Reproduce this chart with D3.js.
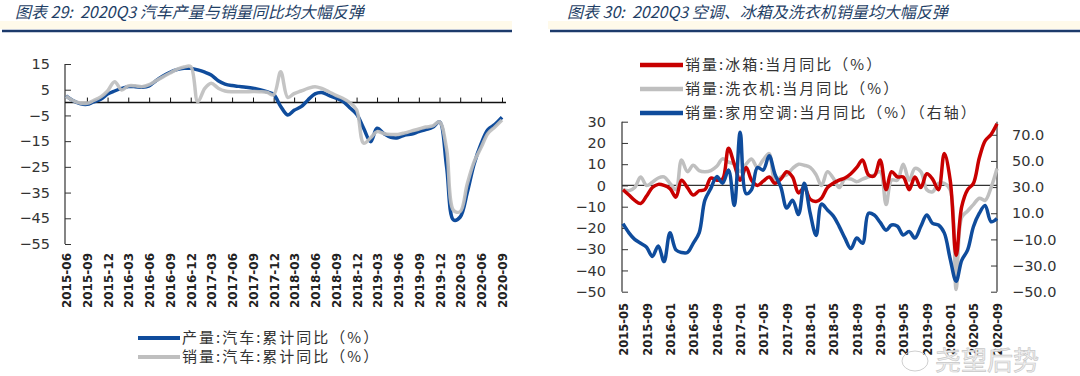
<!DOCTYPE html>
<html><head><meta charset="utf-8">
<script src="https://cdn.jsdelivr.net/npm/d3@7"></script>
<style>
html,body{margin:0;padding:0;background:#fff;}
svg text{font-family:"DejaVu Sans",Verdana,sans-serif;}
.cjk{font-family:"Noto Sans CJK SC","Noto Sans",sans-serif;}
.pre{white-space:pre;}
</style>
</head><body>
<svg id="c" width="1080" height="376"></svg>
<script>
// ---------- Chart 29: cars (cumulative YoY, %) ----------
const carStart = "2015-06", carEnd = "2020-09";
const carProd = [2.6,0.8,-0.4,-0.7,0.3,1.3,3.3,4.5,5.5,6.2,6.2,6.0,6.5,8.5,10.3,11.8,12.8,13.3,13.3,12.7,11.8,10.7,8.5,7.2,6.6,6.3,6.0,5.6,5.0,4.2,3.2,-1.5,-4.8,-3.0,-1.6,1.0,3.4,3.9,2.8,1.7,0.5,-2.0,-4.5,-10,-15.2,-10,-12.1,-13.5,-13.7,-12.6,-12.2,-11.3,-10.5,-9.6,-7.5,-24.9,-45.7,-44.5,-35,-24,-16,-10.5,-8.5,-5.7];
const carSales = [2.5,0.8,-0.2,-0.3,0.8,2.2,4.5,8.1,4.9,6.5,6.5,6.2,7.0,8.5,10.0,11.5,12.9,13.8,14.0,0.3,5.5,7.5,5.6,4.5,4.2,4.2,4.2,4.3,4.2,4.0,3.0,12.0,2.0,3.5,4.5,5.5,6.2,5.5,4.2,2.8,1.7,0.0,-2.8,-15.8,-13.7,-11.3,-12.1,-12.4,-12.4,-11.8,-11.0,-10.3,-9.5,-9.1,-7.5,-18.0,-42.0,-42.4,-31.7,-23.1,-17.5,-12.0,-9.5,-6.8];
const carXTicks = ["2015-06","2015-09","2015-12","2016-03","2016-06","2016-09","2016-12","2017-03","2017-06","2017-09","2017-12","2018-03","2018-06","2018-09","2018-12","2019-03","2019-06","2019-09","2019-12","2020-03","2020-06","2020-09"];
const carYTicks = [15,5,-5,-15,-25,-35,-45,-55];
const carSeriesNames = ["产量:汽车:累计同比（%）","销量:汽车:累计同比（%）"];

// ---------- Chart 30: appliances (monthly YoY, %) ----------
const appStart = "2015-05", appEnd = "2020-09";
const fridge = [-2,-4.5,-7,-8.5,-5,-1,0.5,0,-1.5,-5.5,2.5,-1,-4.5,-2.5,-2,3.5,2.5,3,17.5,10,2.5,8.5,2.5,0,2,4,1,3,6.5,4,-3.5,-1,-6.5,-7.5,-6,-1,1,2.5,3.5,5.5,8.5,12,5,4.5,12,-2,6.5,4,4,-2,4,-1,5.5,3,-2,15,2.5,-33,-10,-2,1,13,21,24,29];
const washer = [-2,-2.5,-1,4,0,1.5,3.5,4,1,-2,12,6.5,9.5,7,6.5,7,9,12.5,11,10,6.5,10,12.5,8.5,12,15,2,4,5,8,10,9.5,8.5,5,0,6.5,3.5,-1,3,3,1.8,3,4,5,6.5,-9,2.5,2.5,10,2.5,8,6.5,-2,-3,1,1,-2,-49,-15,-12,-9,-6,-7,-1,8];
const aircon = [2,-5,-10,-13,-16,-23,-15,-27,-5,-18,-20,-20,-13,-5,20,29,38,33,43,16,72,25,28,45,43,54,40,30,14,20,9,33,10,-7,17,12.5,8,0,-9,-17,-9,-13,10,8.6,3,-3,1,0,-6.6,-4,-9,0,8.6,2.3,1,-5,-25,-42,-26,-18,-0.3,10,16,3.5,6];
const appXTicks = ["2015-05","2015-09","2016-01","2016-05","2016-09","2017-01","2017-05","2017-09","2018-01","2018-05","2018-09","2019-01","2019-05","2019-09","2020-01","2020-05","2020-09"];
const appLeftTicks = [30,20,10,0,-10,-20,-30,-40,-50];
const appRightTicks = [70,50,30,10,-10,-30,-50];
const appSeriesNames = ["销量:冰箱:当月同比（%）","销量:洗衣机:当月同比（%）","销量:家用空调:当月同比（%）（右轴）"];

const titles = ["图表 29:  2020Q3 汽车产量与销量同比均大幅反弹","图表 30:  2020Q3 空调、冰箱及洗衣机销量均大幅反弹"];

// ---------- drawing ----------
const svg = d3.select("#c");
const parse = d3.timeParse("%Y-%m");
const BLUE = "#0F4C9C", GRAY = "#BFBFBF", RED = "#C80000", TITLE = "#1F3F66", NAVY = "#1C3A6B";

// title bands
[[0,512],[548,1080]].forEach(([x0,x1],k)=>{
  svg.append("rect").attr("x",x0).attr("y",21).attr("width",x1-x0).attr("height",8).attr("fill","#FFFAEA");
  svg.append("line").attr("x1",x0+2).attr("x2",x1).attr("y1",31).attr("y2",31).attr("stroke",NAVY).attr("stroke-width",2.5);
});
svg.append("text").attr("class","cjk pre").attr("x",15).attr("y",18).attr("font-size",16).attr("font-style","italic").attr("fill",TITLE).text(titles[0]);
svg.append("text").attr("class","cjk pre").attr("x",567).attr("y",18).attr("font-size",16).attr("font-style","italic").attr("fill",TITLE).text(titles[1]);

// ===== Chart 29 =====
(function(){
  const months = d3.timeMonth.range(parse(carStart), d3.timeMonth.offset(parse(carEnd),1));
  const x = d3.scaleTime().domain([parse(carStart), parse(carEnd)]).range([66, 502]);
  const y = d3.scaleLinear().domain([-55, 15]).range([244, 64]);
  const g = svg.append("g");
  const ya = d3.axisLeft(y).tickValues(carYTicks).tickSize(-6).tickPadding(15).tickFormat(d3.format("d"));
  const yg = g.append("g").attr("transform","translate(65,0)").call(ya);
  yg.select(".domain").remove();
  yg.append("line").attr("x1",0).attr("x2",0).attr("y1",y(15)).attr("y2",y(-55)).attr("stroke","#333").attr("stroke-width",1.2);
  yg.selectAll(".tick line").attr("stroke","#333");
  yg.selectAll("text").attr("font-size",14.5).attr("fill","#333");
  const xa = d3.axisBottom(x).tickValues(carXTicks.map(parse)).tickSize(-5).tickFormat("");
  const xg = g.append("g").attr("transform",`translate(0,${y(0)})`).call(xa);
  xg.select(".domain").remove();
  xg.append("line").attr("x1",65).attr("x2",506).attr("y1",0).attr("y2",0).attr("stroke","#111").attr("stroke-width",1.5);
  xg.selectAll(".tick line").attr("stroke","#111").filter((d,i)=>i===0).remove();
  g.selectAll(".xl").data(carXTicks).join("text")
    .attr("transform",d=>`translate(${x(parse(d))+5},253) rotate(-90)`)
    .attr("text-anchor","end").attr("font-size",12).attr("font-weight","bold").attr("fill","#222").text(d=>d);
  const line = d3.line().x((d,i)=>x(months[i])).y(d=>y(d)).curve(d3.curveCatmullRom.alpha(0.5));
  g.append("path").datum(carProd).attr("d",line).attr("fill","none").attr("stroke",BLUE).attr("stroke-width",3.5);
  g.append("path").datum(carSales).attr("d",line).attr("fill","none").attr("stroke",GRAY).attr("stroke-width",3.5).attr("stroke-opacity",0.92);
  const lg = g.append("g");
  [[BLUE,338],[GRAY,357]].forEach(([c,yy],i)=>{
    lg.append("line").attr("x1",138).attr("x2",180).attr("y1",yy).attr("y2",yy).attr("stroke",c).attr("stroke-width",4);
    lg.append("text").attr("class","cjk").attr("x",182).attr("y",yy+5).attr("font-size",15).attr("letter-spacing",2).attr("fill","#333").text(carSeriesNames[i]);
  });
})();

// ===== Chart 30 =====
(function(){
  const months = d3.timeMonth.range(parse(appStart), d3.timeMonth.offset(parse(appEnd),1));
  const x = d3.scaleTime().domain([parse(appStart), parse(appEnd)]).range([623, 997]);
  const yL = d3.scaleLinear().domain([-50, 30]).range([291.7, 121.7]);
  const yR = d3.scaleLinear().domain([-50, 80]).range([291.7, 121.7]);
  const g = svg.append("g");
  const ya = d3.axisLeft(yL).tickValues(appLeftTicks).tickSize(-6).tickPadding(16).tickFormat(d3.format("d"));
  const yg = g.append("g").attr("transform","translate(622,0)").call(ya);
  yg.select(".domain").remove();
  yg.append("line").attr("y1",yL(30)).attr("y2",yL(-50)).attr("stroke","#333").attr("stroke-width",1.2);
  yg.selectAll(".tick line").attr("stroke","#333");
  yg.selectAll("text").attr("font-size",14.5).attr("fill","#333");
  const yra = d3.axisRight(yR).tickValues(appRightTicks).tickSize(-6).tickPadding(15).tickFormat(d3.format(".1f"));
  const yrg = g.append("g").attr("transform","translate(997,0)").call(yra);
  yrg.select(".domain").remove();
  yrg.append("line").attr("y1",yR(80)).attr("y2",yR(-50)).attr("stroke","#333").attr("stroke-width",1.2);
  yrg.selectAll(".tick line").attr("stroke","#333");
  yrg.selectAll("text").attr("font-size",14.5).attr("fill","#333");
  g.append("line").attr("x1",622).attr("x2",997).attr("y1",yL(0)).attr("y2",yL(0)).attr("stroke","#333").attr("stroke-width",1.2);
  g.selectAll(".xl").data(appXTicks).join("text")
    .attr("transform",d=>`translate(${x(parse(d))+5},303) rotate(-90)`)
    .attr("text-anchor","end").attr("font-size",11.5).attr("font-weight","bold").attr("fill","#222").text(d=>d);
  const lineL = d3.line().x((d,i)=>x(months[i])).y(d=>yL(d)).curve(d3.curveCatmullRom.alpha(0.5));
  const lineR = d3.line().x((d,i)=>x(months[i])).y(d=>yR(d)).curve(d3.curveCatmullRom.alpha(0.5));
  g.append("path").datum(washer).attr("d",lineL).attr("fill","none").attr("stroke",GRAY).attr("stroke-width",3.5);
  g.append("path").datum(fridge).attr("d",lineL).attr("fill","none").attr("stroke",RED).attr("stroke-width",3.5);
  g.append("path").datum(aircon).attr("d",lineR).attr("fill","none").attr("stroke",BLUE).attr("stroke-width",3.5);
  [[RED,65],[GRAY,89],[BLUE,113]].forEach(([c,yy],i)=>{
    g.append("line").attr("x1",640).attr("x2",683).attr("y1",yy).attr("y2",yy).attr("stroke",c).attr("stroke-width",4.5);
    g.append("text").attr("class","cjk").attr("x",685).attr("y",yy+5).attr("font-size",15).attr("letter-spacing",2).attr("fill","#333").text(appSeriesNames[i]);
  });
  g.append("text").attr("class","cjk").attr("x",935).attr("y",370).attr("font-size",26).attr("fill","#f0f0f0").attr("stroke","#c8c8c8").attr("stroke-width",0.7).text("尧望后势");
  g.append("ellipse").attr("cx",915).attr("cy",361).attr("rx",13).attr("ry",10).attr("fill","none").attr("stroke","#cfcfcf").attr("stroke-width",1);
})();
</script>
</body></html>
